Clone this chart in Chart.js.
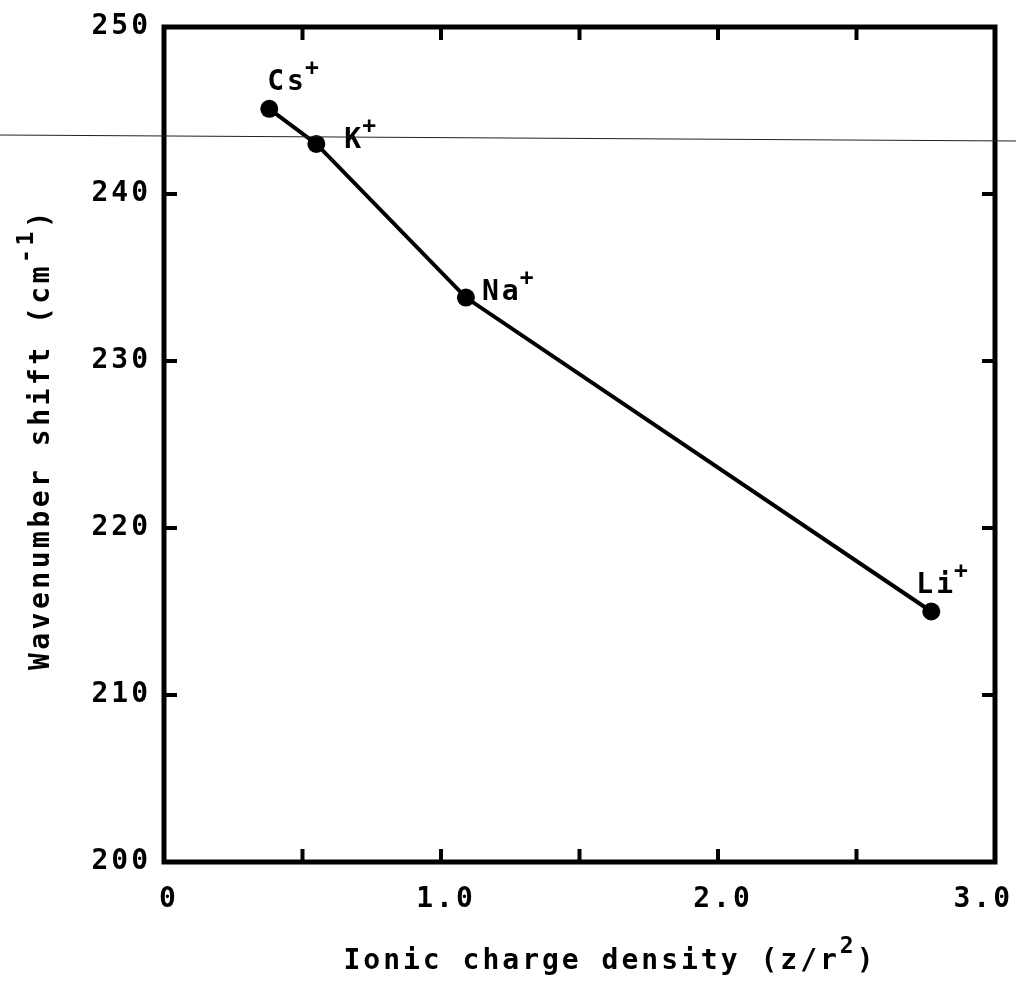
<!DOCTYPE html>
<html>
<head>
<meta charset="utf-8">
<script src="https://cdn.jsdelivr.net/npm/chart.js@4.4.1/dist/chart.umd.min.js"></script>
<style>
  html, body { margin: 0; padding: 0; background: #fff; }
</style>
</head>
<body>
<canvas id="chart" width="1016" height="985"></canvas>
<script>
const ions = ['Cs', 'K', 'Na', 'Li'];
const chargeDensity = [0.38, 0.55, 1.09, 2.77];
const wavenumberShift = [245.1, 243.0, 233.8, 215.0];
const xTicks = [0, 0.5, 1.0, 1.5, 2.0, 2.5, 3.0];
const xTickLabels = ['0', '', '1.0', '', '2.0', '', '3.0'];
const yTicks = [200, 210, 220, 230, 240, 250];
const yTickLabels = ['200', '210', '220', '230', '240', '250'];

const FAMILY = '"DejaVu Sans Mono", "Liberation Mono", monospace';
const FONT = 'bold 28px ' + FAMILY;
const SUP_FONT = 'bold 23px ' + FAMILY;
// where each ion label sits relative to its point (left, baseline)
const ionLabelOffset = [[-2, -19], [28, 4], [16, 2], [-15, -19]];

// draws text with superscript pieces, centred on x
function richText(ctx, parts, x, y) {
  let total = 0;
  parts.forEach(p => {
    ctx.font = p.sup ? SUP_FONT : FONT;
    total += ctx.measureText(p.t).width;
  });
  let cx = x - total / 2;
  parts.forEach(p => {
    ctx.font = p.sup ? SUP_FONT : FONT;
    ctx.fillText(p.t, cx, p.sup ? y - 16 : y);
    cx += ctx.measureText(p.t).width;
  });
}

const axesPlugin = {
  id: 'oldAxes',
  afterDraw(chart) {
    const ctx = chart.ctx;
    const a = chart.chartArea;
    const xs = chart.scales.x, ys = chart.scales.y;
    ctx.save();
    ctx.letterSpacing = '3px';
    ctx.strokeStyle = '#000';
    ctx.fillStyle = '#000';

    // frame
    ctx.lineWidth = 5;
    ctx.strokeRect(a.left, a.top, a.right - a.left, a.bottom - a.top);

    // inward ticks on all four sides
    ctx.lineWidth = 4;
    const tl = 13;
    xTicks.forEach(v => {
      const px = xs.getPixelForValue(v);
      ctx.beginPath();
      ctx.moveTo(px, a.bottom); ctx.lineTo(px, a.bottom - tl);
      ctx.moveTo(px, a.top); ctx.lineTo(px, a.top + tl);
      ctx.stroke();
    });
    yTicks.forEach(v => {
      const py = ys.getPixelForValue(v);
      ctx.beginPath();
      ctx.moveTo(a.left, py); ctx.lineTo(a.left + tl, py);
      ctx.moveTo(a.right, py); ctx.lineTo(a.right - tl, py);
      ctx.stroke();
    });

    // tick labels
    ctx.font = FONT;
    ctx.textBaseline = 'alphabetic';
    ctx.textAlign = 'center';
    xTicks.forEach((v, i) => {
      if (!xTickLabels[i]) return;
      let px = xs.getPixelForValue(v) + 5;
      const w = ctx.measureText(xTickLabels[i]).width;
      if (px + w / 2 > 1013) px = 1013 - w / 2;
      ctx.fillText(xTickLabels[i], px, a.bottom + 45);
    });
    ctx.textAlign = 'right';
    ctx.textBaseline = 'middle';
    yTicks.forEach((v, i) => {
      ctx.fillText(yTickLabels[i], a.left - 13, ys.getPixelForValue(v));
    });

    // axis titles
    ctx.textAlign = 'left';
    ctx.textBaseline = 'alphabetic';
    richText(ctx, [{t: 'Ionic charge density (z/r'}, {t: '2', sup: true}, {t: ')'}], 610, 969);
    ctx.save();
    ctx.letterSpacing = '3.5px';
    ctx.translate(49, 439);
    ctx.rotate(-Math.PI / 2);
    richText(ctx, [{t: 'Wavenumber shift (cm'}, {t: '-1', sup: true}, {t: ')'}], 0, 0);
    ctx.restore();

    // ion labels
    const meta = chart.getDatasetMeta(0);
    meta.data.forEach((pt, i) => {
      const x0 = pt.x + ionLabelOffset[i][0];
      const y0 = pt.y + ionLabelOffset[i][1];
      ctx.font = FONT;
      ctx.fillText(ions[i], x0, y0);
      const w = ctx.measureText(ions[i]).width;
      ctx.font = SUP_FONT;
      ctx.fillText('+', x0 + w - 2, y0 - 15);
    });

    // scan streak across the page
    ctx.lineWidth = 1.2;
    ctx.strokeStyle = '#222';
    ctx.beginPath();
    ctx.moveTo(0, 135); ctx.lineTo(1016, 141);
    ctx.stroke();
    ctx.restore();
  }
};

new Chart(document.getElementById('chart'), {
  type: 'scatter',
  data: {
    datasets: [{
      data: chargeDensity.map((x, i) => ({ x: x, y: wavenumberShift[i] })),
      showLine: true,
      borderColor: '#000',
      borderWidth: 4,
      pointRadius: 9,
      pointBackgroundColor: '#000',
      pointBorderWidth: 0
    }]
  },
  options: {
    responsive: false,
    devicePixelRatio: 1,
    animation: false,
    layout: { padding: { left: 164, right: 21, top: 27, bottom: 123 } },
    plugins: { legend: { display: false }, tooltip: { enabled: false } },
    scales: {
      x: { type: 'linear', min: 0, max: 3, display: false },
      y: { min: 200, max: 250, display: false }
    }
  },
  plugins: [axesPlugin]
});
</script>
</body>
</html>
